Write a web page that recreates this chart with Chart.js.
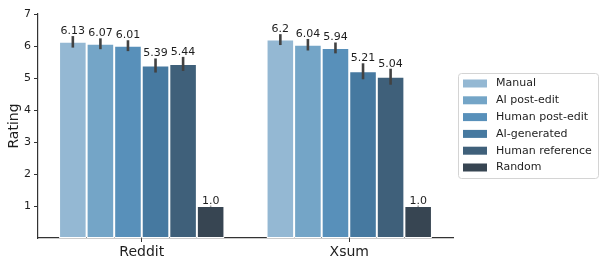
<!DOCTYPE html>
<html><head><meta charset="utf-8">
<script src="https://cdn.jsdelivr.net/npm/chart.js@4/dist/chart.umd.min.js"></script>
<style>html,body{margin:0;padding:0;background:#fff}#wrap{width:600px;height:262px}</style>
</head><body><div id="wrap"><canvas id="c" width="600" height="262"></canvas></div>
<script>
const categories = ['Reddit', 'Xsum'];
const seriesNames = ['Manual', 'AI post-edit', 'Human post-edit', 'AI-generated', 'Human reference', 'Random'];
const manual = [6.13, 6.2];
const aiPostEdit = [6.07, 6.04];
const humanPostEdit = [6.01, 5.94];
const aiGenerated = [5.39, 5.21];
const humanReference = [5.44, 5.04];
const random = [1.0, 1.0];
const manualErr = [0.18, 0.17];
const aiPostEditErr = [0.17, 0.18];
const humanPostEditErr = [0.17, 0.17];
const aiGeneratedErr = [0.22, 0.25];
const humanReferenceErr = [0.22, 0.25];
const randomErr = [0, 0];
const yTicks = [1, 2, 3, 4, 5, 6, 7];

const seriesValues = [manual, aiPostEdit, humanPostEdit, aiGenerated, humanReference, random];
const seriesErrors = [manualErr, aiPostEditErr, humanPostEditErr, aiGeneratedErr, humanReferenceErr, randomErr];
const colors = ['#94b8d3', '#74a5c7', '#5890ba', '#4679a0', '#3f607a', '#374552'];
const FONT = "'DejaVu Sans', sans-serif";
const TXT = '#1e1e1e';

const errPlugin = {
  id: 'errbars',
  afterDatasetsDraw(chart) {
    const ctx = chart.ctx, y = chart.scales.y;
    ctx.save();
    chart.data.datasets.forEach((ds, i) => {
      const meta = chart.getDatasetMeta(i);
      meta.data.forEach((bar, j) => {
        const v = ds.data[j], e = seriesErrors[i][j];
        const top = y.getPixelForValue(v + e), bot = y.getPixelForValue(v - e);
        ctx.strokeStyle = '#424242'; ctx.lineWidth = 2.6;
        if (e > 0) {
          ctx.beginPath(); ctx.moveTo(bar.x, top); ctx.lineTo(bar.x, bot); ctx.stroke();
        } else {
          ctx.globalAlpha = 0.5; ctx.lineWidth = 1.5;
          ctx.beginPath(); ctx.moveTo(bar.x, top - 0.5); ctx.lineTo(bar.x, top + 1); ctx.stroke();
          ctx.globalAlpha = 1;
        }
        const label = Number.isInteger(v) ? v.toFixed(1) : String(v);
        ctx.fillStyle = TXT; ctx.font = '11px ' + FONT;
        ctx.textAlign = 'center'; ctx.textBaseline = 'alphabetic';
        ctx.fillText(label, bar.x, top - 2);
      });
    });
    ctx.restore();
  }
};

const legendPlugin = {
  id: 'boxlegend',
  afterDraw(chart) {
    const ctx = chart.ctx;
    ctx.save();
    const x0 = 458.5, y0 = 73.5, w = 140, h = 105, r = 3;
    ctx.fillStyle = '#fff'; ctx.strokeStyle = '#d4d4d4'; ctx.lineWidth = 1;
    ctx.beginPath(); ctx.roundRect(x0, y0, w, h, r); ctx.fill(); ctx.stroke();
    chart.data.datasets.forEach((ds, i) => {
      const cy = 83.5 + i * 16.8;
      ctx.fillStyle = ds.backgroundColor;
      ctx.fillRect(463, cy - 4, 24, 8);
      ctx.fillStyle = TXT; ctx.font = '11px ' + FONT;
      ctx.textAlign = 'left'; ctx.textBaseline = 'middle';
      ctx.fillText(ds.label, 496, cy);
    });
    ctx.restore();
  }
};

new Chart(document.getElementById('c'), {
  type: 'bar',
  data: {
    labels: categories,
    datasets: seriesNames.map((n, i) => ({
      label: n, data: seriesValues[i], backgroundColor: colors[i],
      borderColor: '#ffffff', borderWidth: 1, borderSkipped: false,
      categoryPercentage: 0.797, barPercentage: 1.0
    }))
  },
  options: {
    responsive: false, animation: false, devicePixelRatio: 1,
    layout: { padding: { top: 14, right: 147, left: 0, bottom: 0 } },
    plugins: { legend: { display: false }, tooltip: { enabled: false } },
    scales: {
      x: {
        grid: { display: true, offset: false, drawOnChartArea: false, drawTicks: true, tickLength: 4, tickColor: '#333', lineWidth: 1 },
        border: { display: true, color: '#333', width: 1.2 },
        ticks: { color: TXT, font: { family: FONT, size: 14 }, padding: 2 },
        afterFit(s) { s.height = 24; }
      },
      y: {
        min: 0, max: 7,
        afterBuildTicks(s) { s.ticks = yTicks.map(v => ({ value: v })); },
        grid: { display: true, drawOnChartArea: false, drawTicks: true, tickLength: 4, tickColor: '#333', lineWidth: 1 },
        border: { display: true, color: '#333', width: 1.2 },
        ticks: { color: TXT, font: { family: FONT, size: 11 }, padding: 3 },
        title: { display: true, text: 'Rating', color: TXT, font: { family: FONT, size: 14 }, padding: { top: 6, bottom: 0 } },
        afterFit(s) { s.width = 38; }
      }
    }
  },
  plugins: [errPlugin, legendPlugin]
});
</script></body></html>
